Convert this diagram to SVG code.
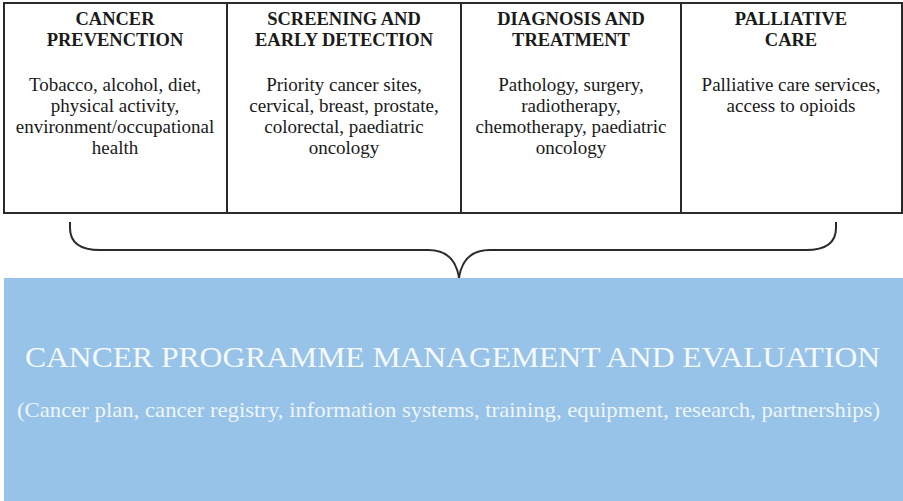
<svg xmlns="http://www.w3.org/2000/svg" width="903" height="501" viewBox="0 0 903 501">
<style>
.box{fill:#fff;stroke:#2a2a2a;stroke-width:2}
.h{font-family:"Liberation Serif",serif;font-weight:bold;font-size:18.5px;fill:#1a1a1a;text-anchor:middle}
.b{font-family:"Liberation Serif",serif;font-size:19px;fill:#1a1a1a;text-anchor:middle}
.brace{fill:none;stroke:#2a2a2a;stroke-width:2}
.t1{font-family:"Liberation Serif",serif;font-size:30px;fill:#f5f9fd}
.t2{font-family:"Liberation Serif",serif;font-size:21px;fill:#eef5fb}
</style>
<rect width="903" height="501" fill="#fff"/>
<g id="prevention">
<rect class="box" x="4" y="3" width="223" height="210"/>
<text class="h" x="115" y="25">CANCER</text>
<text class="h" x="115" y="46">PREVENCTION</text>
<text class="b" x="115" y="91">Tobacco, alcohol, diet,</text>
<text class="b" x="115" y="112">physical activity,</text>
<text class="b" x="115" y="133">environment/occupational</text>
<text class="b" x="115" y="154">health</text>
</g>
<g id="screening">
<rect class="box" x="227" y="3" width="234" height="210"/>
<text class="h" x="344" y="25">SCREENING AND</text>
<text class="h" x="344" y="46">EARLY DETECTION</text>
<text class="b" x="344" y="91">Priority cancer sites,</text>
<text class="b" x="344" y="112">cervical, breast, prostate,</text>
<text class="b" x="344" y="133">colorectal, paediatric</text>
<text class="b" x="344" y="154">oncology</text>
</g>
<g id="diagnosis">
<rect class="box" x="461" y="3" width="220" height="210"/>
<text class="h" x="571" y="25">DIAGNOSIS AND</text>
<text class="h" x="571" y="46">TREATMENT</text>
<text class="b" x="571" y="91">Pathology, surgery,</text>
<text class="b" x="571" y="112">radiotherapy,</text>
<text class="b" x="571" y="133">chemotherapy, paediatric</text>
<text class="b" x="571" y="154">oncology</text>
</g>
<g id="palliative">
<rect class="box" x="681" y="3" width="221" height="210"/>
<text class="h" x="791" y="25">PALLIATIVE</text>
<text class="h" x="791" y="46">CARE</text>
<text class="b" x="791" y="91">Palliative care services,</text>
<text class="b" x="791" y="112">access to opioids</text>
</g>
<g id="connectors">
<path class="brace" d="M70 222 V228 Q70 250 100 250 H428 Q455 250 459 278 Q463 250 490 250 H806 Q836 250 836 228 V222"/>
</g>
<g id="management">
<rect x="4" y="278" width="899" height="223" fill="#97c3e8"/>
<text class="t1" x="25" y="367" textLength="855" lengthAdjust="spacingAndGlyphs">CANCER PROGRAMME MANAGEMENT AND EVALUATION</text>
<text class="t2" x="17" y="417" textLength="863" lengthAdjust="spacingAndGlyphs">(Cancer plan, cancer registry, information systems, training, equipment, research, partnerships)</text>
</g>
</svg>
